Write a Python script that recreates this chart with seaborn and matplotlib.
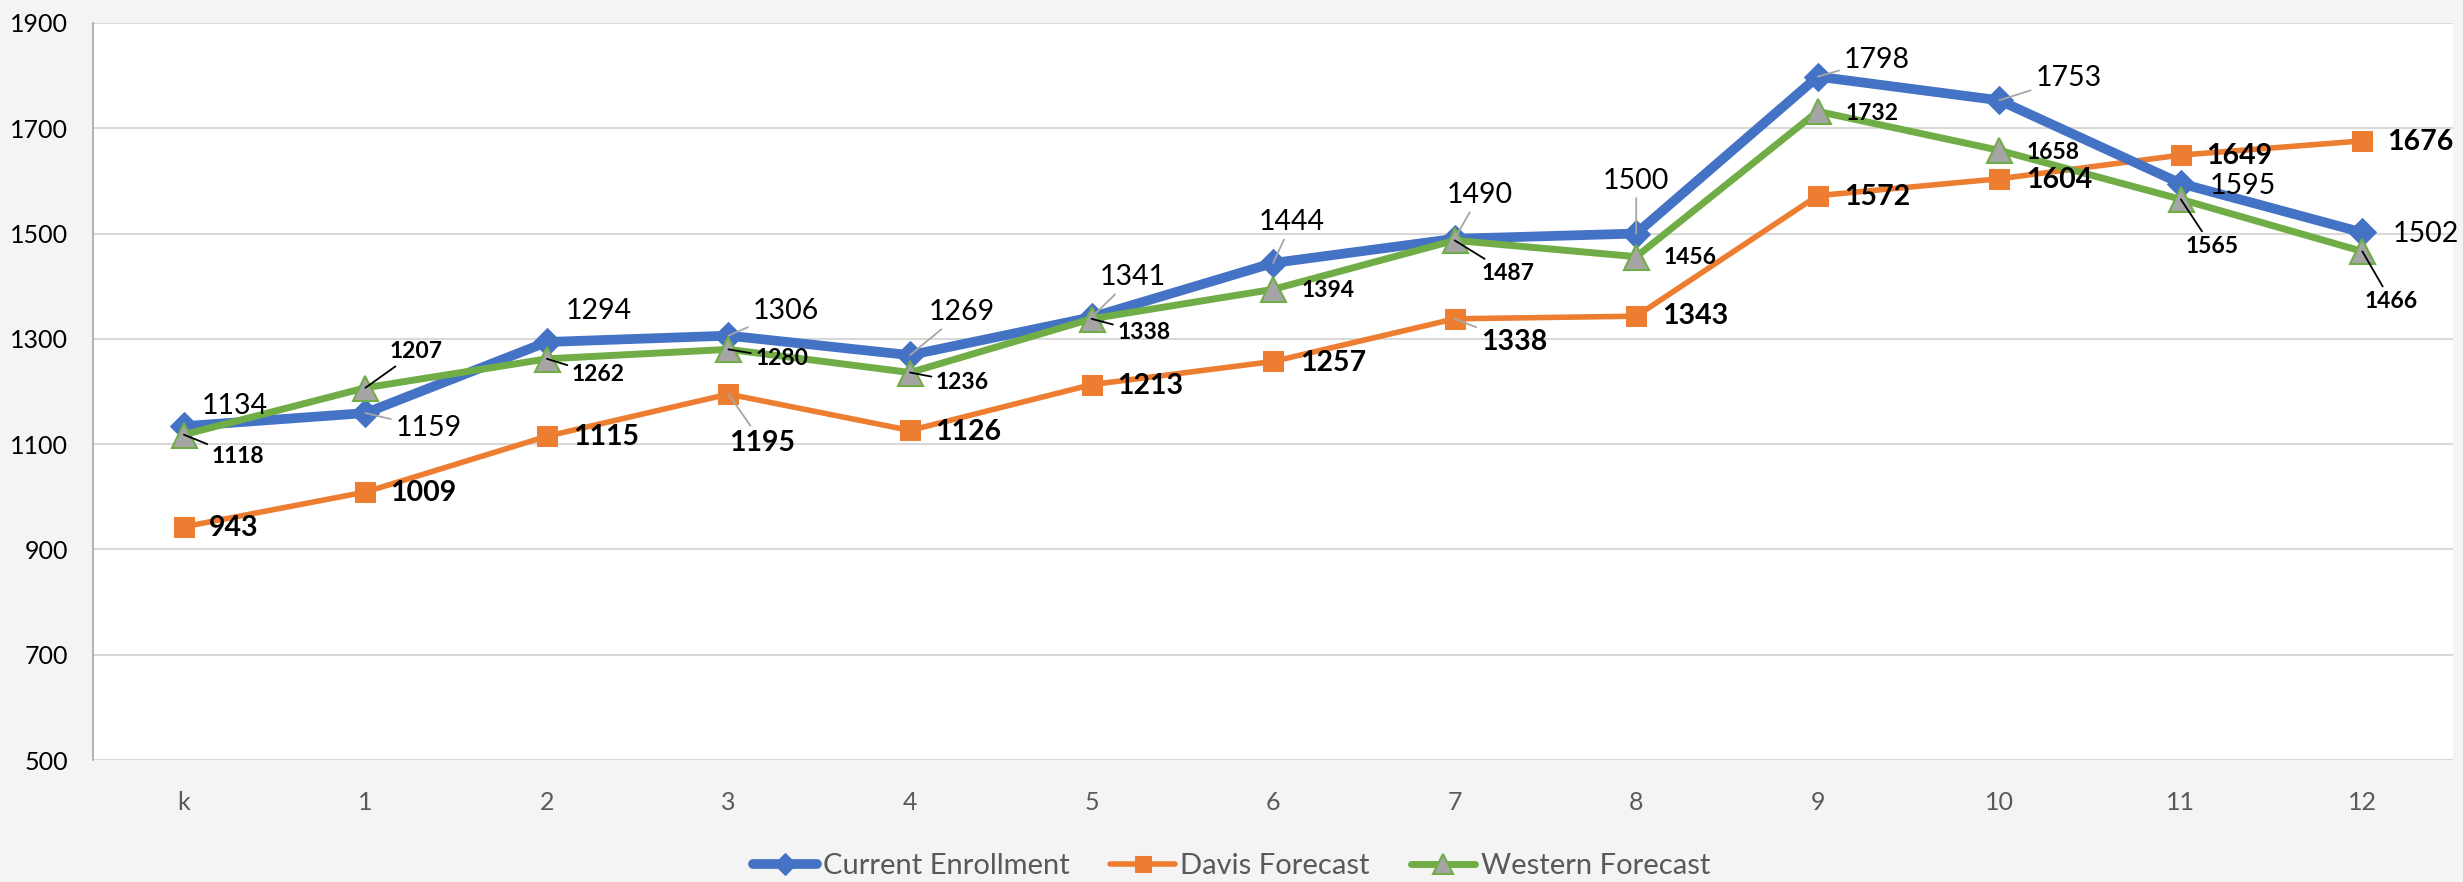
import numpy as np
import pandas as pd
import seaborn as sns
import matplotlib.pyplot as plt

sns.set_style("white")
plt.rcParams["font.family"] = ["Lato", "DejaVu Sans"]

# data
grades = ["k", "1", "2", "3", "4", "5", "6", "7", "8", "9", "10", "11", "12"]
current_enrollment = [1134, 1159, 1294, 1306, 1269, 1341, 1444, 1490, 1500, 1798, 1753, 1595, 1502]
davis_forecast = [943, 1009, 1115, 1195, 1126, 1213, 1257, 1338, 1343, 1572, 1604, 1649, 1676]
western_forecast = [1118, 1207, 1262, 1280, 1236, 1338, 1394, 1487, 1456, 1732, 1658, 1565, 1466]

BLUE = "#4472C4"
ORANGE = "#ED7D31"
GREEN = "#70AD47"
GRAY = "#A5A5A5"

# label placement: (dx, dy) in output px (y down), ha, leader line?
BLUE_LABELS = [(18, -20, "left", False), (30, 15, "left", True), (19, -31, "left", False),
               (24, -25, "left", True), (19, -43, "left", True), (8, -40, "left", True),
               (19, -41, "center", True), (25, -44, "center", True), (0, -53, "center", True),
               (26, -17, "left", True), (36, -22, "left", True), (29, 2, "left", False),
               (30, 2, "left", False)]
ORANGE_LABELS = [(25, 1, "left", False), (25, 1, "left", False), (26, 1, "left", False),
                 (1, 49, "left", True), (25, 2, "left", False), (26, 1, "left", False),
                 (27, 2, "left", False), (26, 23, "left", True), (26, 0, "left", False),
                 (26, 1, "left", False), (27, 1, "left", False), (25, 1, "left", False),
                 (25, 1, "left", False)]
GREEN_LABELS = [(28, 22, "left", True), (24, -36, "left", True), (25, 16, "left", True),
                (27, 9, "left", True), (26, 10, "left", True), (26, 14, "left", True),
                (28, 1, "left", False), (27, 33, "left", True), (27, 1, "left", False),
                (28, 2, "left", False), (27, 2, "left", False), (31, 47, "center", True),
                (29, 50, "center", True)]

x = np.arange(len(grades))
df = pd.DataFrame({"x": x, "current": current_enrollment,
                   "davis": davis_forecast, "western": western_forecast})

fig = plt.figure(figsize=(24.63, 8.82), dpi=100, facecolor="#f4f4f4")
ax = fig.add_axes([0.0378, 0.1383, 0.9582, 0.8357])
ax.set_facecolor("white")

sns.lineplot(data=df, x="x", y="current", ax=ax, color=BLUE, lw=7, marker="D",
             markersize=14, markerfacecolor=BLUE, markeredgecolor=BLUE,
             label="Current Enrollment", zorder=4)
sns.lineplot(data=df, x="x", y="davis", ax=ax, color=ORANGE, lw=4, marker="s",
             markersize=14, markerfacecolor=ORANGE, markeredgecolor=ORANGE,
             label="Davis Forecast", zorder=3)
sns.lineplot(data=df, x="x", y="western", ax=ax, color=GREEN, lw=5, marker="^",
             markersize=18, markerfacecolor=GRAY, markeredgecolor=GREEN,
             markeredgewidth=1.5, label="Western Forecast", zorder=5)

PX = 0.72  # px -> points at 100 dpi


def put_labels(values, places, size, weight, lead_color):
    for i, (v, (dx, dy, ha, lead)) in enumerate(zip(values, places)):
        arrow = None
        if lead:
            arrow = dict(arrowstyle="-", color=lead_color, lw=1.3,
                         shrinkA=1, shrinkB=0)
        ax.annotate(str(v), xy=(i, v), xytext=(dx * PX, -dy * PX),
                    textcoords="offset points", ha=ha, va="center",
                    fontsize=size, fontweight=weight, color="black",
                    arrowprops=arrow, zorder=6)


put_labels(current_enrollment, BLUE_LABELS, 20.5, "normal", "#a6a6a6")
put_labels(davis_forecast, ORANGE_LABELS, 20.5, "bold", "#a6a6a6")
put_labels(western_forecast, GREEN_LABELS, 16.5, "bold", "black")

ax.set_xlim(-0.5, len(grades) - 0.5)
ax.set_ylim(500, 1900)
ax.set_xticks(x)
ax.set_xticklabels(grades)
ax.set_yticks(range(500, 1901, 200))
ax.set_xlabel("")
ax.set_ylabel("")
ax.tick_params(axis="x", length=0, pad=22, labelsize=18, labelcolor="#595959")
ax.tick_params(axis="y", length=0, pad=18, labelsize=18, labelcolor="black")
ax.grid(axis="y", color="#d9d9d9", lw=1.5)
ax.grid(axis="x", visible=False)
for s in ["top", "right", "bottom"]:
    ax.spines[s].set_visible(False)
ax.spines["left"].set_color("#a6a6a6")
ax.spines["left"].set_linewidth(1.2)

ax.get_legend().remove()
handles, labels = ax.get_legend_handles_labels()
fig.legend(handles, labels, loc="center", bbox_to_anchor=(0.5, 0.018), ncol=3,
           frameon=False, fontsize=21, handlelength=2.2, columnspacing=1.4,
           handletextpad=0.2, labelcolor="#595959", markerscale=0.8)

fig.savefig("out.png", dpi=100, facecolor=fig.get_facecolor())
